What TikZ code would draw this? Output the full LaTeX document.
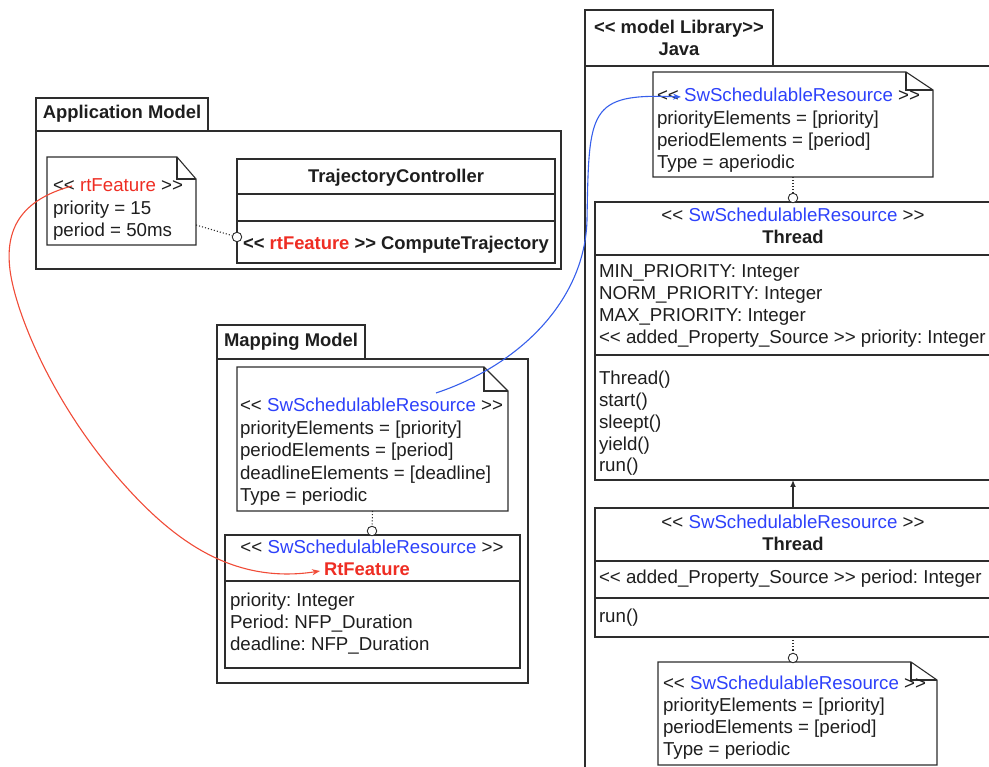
\documentclass[tikz,border=0pt]{standalone}
\usepackage{fontspec}
\newfontfamily\uifont{Liberation Sans}
\usetikzlibrary{arrows.meta,calc}
\definecolor{rtred}{RGB}{238,45,35}
\definecolor{swblue}{RGB}{45,65,250}
\definecolor{curveblue}{RGB}{55,95,235}
\definecolor{curvered}{RGB}{240,75,55}
\definecolor{edge}{RGB}{45,45,45}
\definecolor{ink}{RGB}{30,30,30}
\begin{document}
\frenchspacing
\begin{tikzpicture}[x=1pt,y=-1pt,
  font=\uifont\fontsize{18.7}{22}\selectfont,
  box/.style={draw=edge,line width=1.1pt,rectangle,inner sep=0pt,outer sep=0pt,anchor=north west},
  pkg/.style={box,line width=1.3pt},
  sep/.style={draw=edge,line width=1.1pt},
  notebg/.style={rectangle,inner sep=0pt,outer sep=0pt,anchor=north west},
  noteline/.style={draw=edge,line width=1.1pt,line join=miter},
  txt/.style={inner sep=0pt,outer sep=0pt,text height=13pt,text depth=4pt,anchor=west,text=ink},
  ctxt/.style={txt,anchor=center},
  btxt/.style={ctxt,font=\uifont\fontsize{18.4}{22}\selectfont\bfseries},
  circ/.style={circle,draw=edge,fill=white,line width=0.9pt,minimum size=9.5pt,inner sep=0pt},
  dotline/.style={draw=edge,dotted,line width=1.1pt},
]
\useasboundingbox (0,0) rectangle (989,767);
\clip (0,0) rectangle (989,767);

% ---------------- Application Model ----------------
\node[pkg,minimum width=172,minimum height=33] (appTab) at (36,98) {};
\node[btxt] (appTabT) at (appTab.center) {Application Model};
\node[pkg,minimum width=525,minimum height=138] (appBody) at (36,131) {};

\node[notebg,minimum width=149,minimum height=88] (appNote) at (47,157) {};
\draw[noteline] (appNote.north west) -- ([xshift=-19]appNote.north east) -- ([yshift=-22]appNote.north east) -- (appNote.south east) -- (appNote.south west) -- cycle;
\draw[noteline] ([xshift=-19]appNote.north east) |- ([yshift=-22]appNote.north east);
\node[txt] (appNoteA) at (53,187) {<< \textcolor{rtred}{rtFeature} >>};
\node[txt] (appNoteB) at (53,210) {priority = 15};
\node[txt] (appNoteC) at (53,232) {period = 50ms};

\node[box,minimum width=318,minimum height=104] (tc) at (237,159) {};
\draw[sep] (237,194) -- (555,194);
\draw[sep] (237,221) -- (555,221);
\node[btxt] (tcName) at (396,178) {TrajectoryController};
\node[btxt] (tcOp) at (396,245) {<< \textcolor{rtred}{rtFeature} >> ComputeTrajectory};
\node[circ] (c1) at (237,237) {};
\draw[dotline] ([yshift=-24pt]appNote.east) -- (c1);

% ---------------- Mapping Model ----------------
\node[pkg,minimum width=148,minimum height=34] (mapTab) at (217,325) {};
\node[btxt] (mapTabT) at (mapTab.center) {Mapping Model};
\node[pkg,minimum width=311,minimum height=324] (mapBody) at (217,359) {};

\node[notebg,minimum width=271,minimum height=144] (mapNote) at (237,367) {};
\draw[noteline] (mapNote.north west) -- ([xshift=-24]mapNote.north east) -- ([yshift=-24]mapNote.north east) -- (mapNote.south east) -- (mapNote.south west) -- cycle;
\draw[noteline] ([xshift=-24]mapNote.north east) |- ([yshift=-24]mapNote.north east);
\node[txt] (mapNoteA) at (240,407) {<< \textcolor{swblue}{SwSchedulableResource} >>};
\node[txt] (mapNoteB) at (240,430) {priorityElements = [priority]};
\node[txt] (mapNoteC) at (240,452) {periodElements = [period]};
\node[txt] (mapNoteD) at (240,475) {deadlineElements = [deadline]};
\node[txt] (mapNoteE) at (240,497) {Type = periodic};

\node[box,minimum width=295,minimum height=133] (rtf) at (225,535) {};
\draw[sep] (225,581) -- (520,581);
\node[ctxt] (rtfSt) at (372,549) {<< \textcolor{swblue}{SwSchedulableResource} >>};
\node[btxt,text=rtred] (rtfName) at (367,571) {RtFeature};
\node[txt] (rtfA) at (230,602) {priority: Integer};
\node[txt] (rtfB) at (230,624) {Period: NFP\_Duration};
\node[txt] (rtfC) at (230,646) {deadline: NFP\_Duration};
\node[circ] (c2) at (372,531) {};
\draw[dotline] (mapNote.south) -- (c2);

% ---------------- Java model library ----------------
\node[pkg,minimum width=188,minimum height=56] (javaTab) at (585,10) {};
\node[btxt] (javaTabA) at (679,29) {<< model Library>>};
\node[btxt] (javaTabB) at (679,51) {Java};
\node[pkg,minimum width=430,minimum height=730] (javaBody) at (585,66) {};

\node[notebg,minimum width=280,minimum height=105] (topNote) at (653,72) {};
\draw[noteline] (topNote.north west) -- ([xshift=-27]topNote.north east) -- ([yshift=-18]topNote.north east) -- (topNote.south east) -- (topNote.south west) -- cycle;
\draw[noteline] ([xshift=-27]topNote.north east) |- ([yshift=-18]topNote.north east);
\node[txt] (topNoteA) at (657,97) {<< \textcolor{swblue}{SwSchedulableResource} >>};
\node[txt] (topNoteB) at (657,120) {priorityElements = [priority]};
\node[txt] (topNoteC) at (657,142) {periodElements = [period]};
\node[txt] (topNoteD) at (657,164) {Type = aperiodic};

\node[box,minimum width=400,minimum height=278] (thread1) at (595,202) {};
\draw[sep] (595,255) -- (995,255);
\draw[sep] (595,355) -- (995,355);
\node[ctxt] (t1St) at (793,217) {<< \textcolor{swblue}{SwSchedulableResource} >>};
\node[btxt] (t1Name) at (793,239) {Thread};
\node[txt] (t1A) at (599,273) {MIN\_PRIORITY: Integer};
\node[txt] (t1B) at (599,295) {NORM\_PRIORITY: Integer};
\node[txt] (t1C) at (599,317) {MAX\_PRIORITY: Integer};
\node[txt] (t1D) at (599,339) {<< added\_Property\_Source >> priority: Integer};
\node[txt] (t1E) at (599,380) {Thread()};
\node[txt] (t1F) at (599,402) {start()};
\node[txt] (t1G) at (599,424) {sleept()};
\node[txt] (t1H) at (599,446) {yield()};
\node[txt] (t1I) at (599,467) {run()};
\node[circ] (c3) at (793,198) {};
\draw[dotline] (topNote.south -| c3) -- (c3);

\node[box,minimum width=400,minimum height=129] (thread2) at (595,508) {};
\draw[sep] (595,561) -- (995,561);
\draw[sep] (595,598) -- (995,598);
\node[ctxt] (t2St) at (793,524) {<< \textcolor{swblue}{SwSchedulableResource} >>};
\node[btxt] (t2Name) at (793,546) {Thread};
\node[txt] (t2A) at (599,579) {<< added\_Property\_Source >> period: Integer};
\node[txt] (t2B) at (599,618) {run()};

\draw[draw=edge,line width=1.3pt,-{Latex[length=7pt,width=6pt]}] (thread2.north -| c3) -- (thread1.south -| c3);

\node[notebg,minimum width=279,minimum height=103] (botNote) at (658,662) {};
\draw[noteline] (botNote.north west) -- ([xshift=-26]botNote.north east) -- ([yshift=-18]botNote.north east) -- (botNote.south east) -- (botNote.south west) -- cycle;
\draw[noteline] ([xshift=-26]botNote.north east) |- ([yshift=-18]botNote.north east);
\node[txt] (botNoteA) at (663,685) {<< \textcolor{swblue}{SwSchedulableResource} >>};
\node[txt] (botNoteB) at (663,707) {priorityElements = [priority]};
\node[txt] (botNoteC) at (663,729) {periodElements = [period]};
\node[txt] (botNoteD) at (663,751) {Type = periodic};
\node[circ] (c4) at (793,658) {};
\draw[dotline] (thread2.south -| c4) -- (c4);

% ---------------- curved arrows ----------------
\coordinate (redStart) at (72,186);
\draw[curvered,line width=1.1pt,-{Stealth[length=8pt,width=6pt]}]
  (redStart) .. controls (20,200) and (5,230) .. (10,270)
  .. controls (15,310) and (50,400) .. (120,480)
  .. controls (170,537) and (230,585) .. ([xshift=-4pt]rtfName.west);

\coordinate (blueStart) at (436,393);
\draw[curveblue,line width=1.1pt,-{Stealth[length=8pt,width=6pt]}]
  (blueStart) .. controls (520,365) and (585,300) .. (587,220)
  .. controls (589,110) and (588,93) .. ([xshift=24pt]topNoteA.west);
\end{tikzpicture}
\end{document}
